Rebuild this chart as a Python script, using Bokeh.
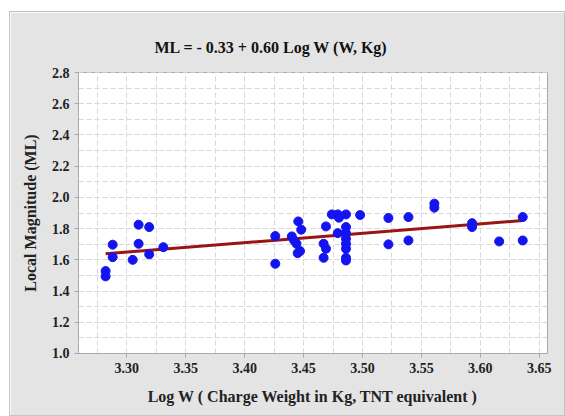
from bokeh.plotting import figure
from bokeh.models import SingleIntervalTicker, NumeralTickFormatter, Range1d
from bokeh.embed import file_html
from bokeh.resources import INLINE

log_w = [3.282, 3.282, 3.288, 3.288, 3.305, 3.310, 3.310, 3.319, 3.319, 3.331,
         3.426, 3.426, 3.4455, 3.448, 3.440, 3.442, 3.444, 3.447, 3.445,
         3.469, 3.467, 3.469, 3.467, 3.474, 3.479, 3.486, 3.480, 3.486, 3.479,
         3.486, 3.486, 3.486, 3.486, 3.486, 3.486, 3.498, 3.522, 3.522, 3.539,
         3.539, 3.561, 3.561, 3.593, 3.593, 3.616, 3.636, 3.636]
ml = [1.528, 1.494, 1.697, 1.617, 1.600, 1.825, 1.703, 1.810, 1.635, 1.681,
      1.752, 1.575, 1.846, 1.793, 1.750, 1.724, 1.703, 1.656, 1.643,
      1.814, 1.703, 1.671, 1.613, 1.891, 1.891, 1.891, 1.870, 1.810, 1.771,
      1.771, 1.735, 1.703, 1.671, 1.613, 1.596, 1.887, 1.868, 1.699, 1.874,
      1.724, 1.960, 1.934, 1.835, 1.810, 1.718, 1.874, 1.724]

intercept = -0.33
slope = 0.60
fit_x = [min(log_w), max(log_w)]
fit_y = [intercept + slope * v for v in fit_x]

title_text = "ML = - 0.33 + 0.60 Log W (W, Kg)"
x_label = "Log W ( Charge Weight in Kg, TNT equivalent )"
y_label = "Local Magnitude (ML)"

serif = "Liberation Serif"
bg = "#e4e4e4"

p = figure(width=554, height=403, output_backend="svg", toolbar_location=None,
           x_range=Range1d(3.259, 3.657), y_range=Range1d(0.9999, 2.8001),
           min_border_left=68, min_border_right=17, min_border_top=60, min_border_bottom=62,
           background_fill_color="white", border_fill_color=bg,
           title=title_text)
p.margin = (12, 0, 0, 10)
p.styles = {"outline": "1px solid #c4c4c4"}

p.title.text_font = serif
p.title.text_font_size = "16px"
p.title.text_font_style = "bold"
p.title.text_color = "#111111"
p.title.align = "left"
p.title.offset = 76
p.title.standoff = 34

p.outline_line_color = "#a8a8a8"
p.outline_line_width = 1

p.line(fit_x, fit_y, line_color="#9b1414", line_width=3)
p.scatter(log_w, ml, size=9, fill_color="#1414f0", line_color="#1414f0")

p.xaxis.ticker = SingleIntervalTicker(interval=0.05, num_minor_ticks=2)
p.yaxis.ticker = SingleIntervalTicker(interval=0.2, num_minor_ticks=2)
p.xaxis.formatter = NumeralTickFormatter(format="0.00")
p.yaxis.formatter = NumeralTickFormatter(format="0.0")

for ax in (p.xaxis, p.yaxis):
    ax.axis_line_color = "#a8a8a8"
    ax.major_tick_line_color = "#a8a8a8"
    ax.minor_tick_line_color = None
    ax.major_tick_out = 4
    ax.major_tick_in = 0
    ax.major_label_text_font = serif
    ax.major_label_text_font_size = "14px"
    ax.major_label_text_font_style = "bold"
    ax.major_label_text_color = "#222222"
    ax.axis_label_text_font = serif
    ax.axis_label_text_font_size = "16px"
    ax.axis_label_text_font_style = "bold"
    ax.axis_label_text_color = "#222222"

p.xaxis.axis_label = x_label
p.yaxis.axis_label = y_label
p.xaxis.axis_label_standoff = 12
p.yaxis.axis_label_standoff = 10

for g in (p.xgrid, p.ygrid):
    g.grid_line_color = "#d8d8d8"
    g.grid_line_dash = "5 3"
    g.minor_grid_line_color = "#d8d8d8"
    g.minor_grid_line_dash = "5 3"

open("out.html", "w").write(file_html(p, INLINE))
